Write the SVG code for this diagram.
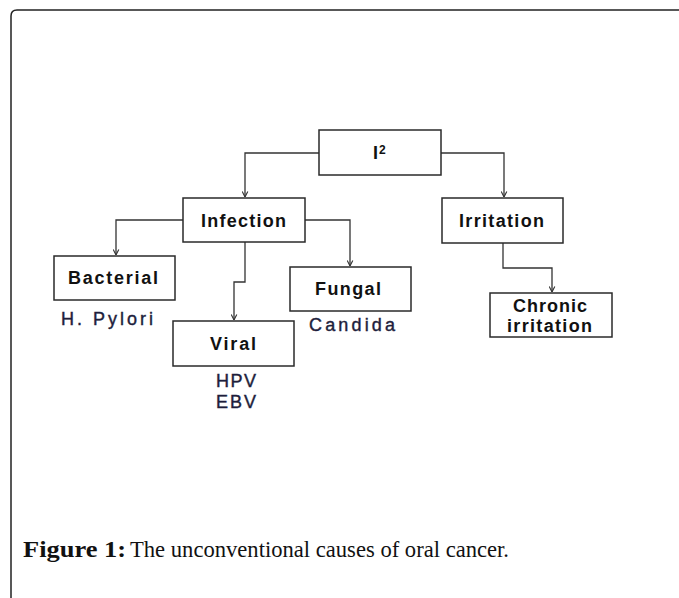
<svg xmlns="http://www.w3.org/2000/svg" width="679" height="598" viewBox="0 0 679 598">
<style>
.box{fill:#fff;stroke:#2a2a2a;stroke-width:1.5}
.lbl{font-family:"Liberation Sans",Arial,sans-serif;font-weight:bold;font-size:18px;fill:#111}
.sub{font-family:"Liberation Sans",Arial,sans-serif;font-size:18px;fill:#1e1e3c;stroke:#1e1e3c;stroke-width:0.4}
.con{fill:none;stroke:#333;stroke-width:1.3;marker-end:url(#arr)}
.cap{font-family:"Liberation Serif","Times New Roman",serif;font-size:22.5px;fill:#111}
</style>
<defs>
<marker id="arr" viewBox="0 0 10 10" refX="10" refY="5" markerWidth="7" markerHeight="7" markerUnits="userSpaceOnUse" orient="auto">
<path d="M2,1 L10,5 L2,9" fill="none" stroke="#333" stroke-width="1.6"/>
</marker>
</defs>
<rect width="679" height="598" fill="#fff"/>
<path d="M11,600 L11,16 Q11,10 17,10 L681,10" fill="none" stroke="#222" stroke-width="1.5"/>
<g id="connectors">
<path class="con" d="M319,153 H245 V197"/>
<path class="con" d="M441,153 H504 V197"/>
<path class="con" d="M183,220 H116 V255"/>
<path class="con" d="M305,220 H350 V266"/>
<path class="con" d="M245,242 V282 H234 V320"/>
<path class="con" d="M503,243 V268 H552 V292"/>
</g>
<g id="n-i2">
<rect class="box" x="319" y="130" width="122" height="45"/>
<text class="lbl" x="373" y="159">I<tspan font-size="12" dx="1" dy="-5">2</tspan></text>
</g>
<g id="n-infection">
<rect class="box" x="183" y="198" width="122" height="44"/>
<text class="lbl" x="201" y="227" textLength="85" lengthAdjust="spacing">Infection</text>
</g>
<g id="n-irritation">
<rect class="box" x="442" y="198" width="121" height="45"/>
<text class="lbl" x="459" y="227" textLength="85" lengthAdjust="spacing">Irritation</text>
</g>
<g id="n-chronic">
<rect class="box" x="490" y="293" width="122" height="44"/>
<text class="lbl" x="513" y="312" textLength="74" lengthAdjust="spacing">Chronic</text>
<text class="lbl" x="507" y="332" textLength="85" lengthAdjust="spacing">irritation</text>
</g>
<g id="n-bacterial">
<rect class="box" x="54" y="256" width="121" height="44"/>
<text class="lbl" x="68" y="284" textLength="90" lengthAdjust="spacing">Bacterial</text>
</g>
<g id="n-fungal">
<rect class="box" x="290" y="267" width="121" height="44"/>
<text class="lbl" x="315" y="295" textLength="66" lengthAdjust="spacing">Fungal</text>
</g>
<g id="n-viral">
<rect class="box" x="173" y="321" width="121" height="45"/>
<text class="lbl" x="210" y="350" textLength="46" lengthAdjust="spacing">Viral</text>
</g>
<g id="sublabels">
<text class="sub" x="61" y="325" textLength="92" lengthAdjust="spacing">H. Pylori</text>
<text class="sub" x="309" y="331" textLength="86" lengthAdjust="spacing">Candida</text>
<text class="sub" x="216" y="387" textLength="40" lengthAdjust="spacing">HPV</text>
<text class="sub" x="216" y="408" textLength="40" lengthAdjust="spacing">EBV</text>
</g>
<g id="caption">
<text class="cap" x="23" y="557"><tspan font-weight="bold" textLength="103" lengthAdjust="spacingAndGlyphs">Figure 1:</tspan><tspan x="130" textLength="379" lengthAdjust="spacingAndGlyphs">The unconventional causes of oral cancer.</tspan></text>
</g>
</svg>
